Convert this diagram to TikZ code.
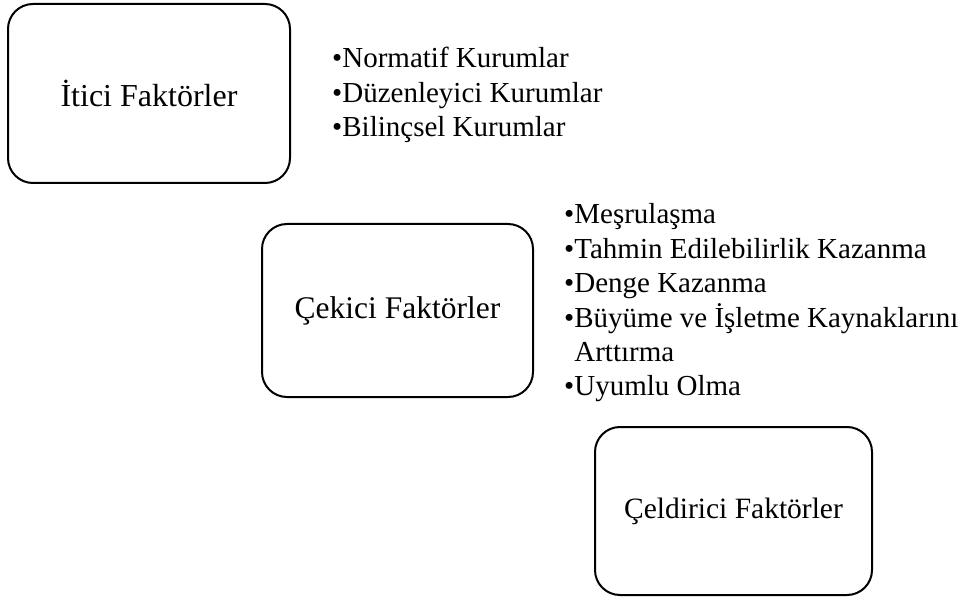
\documentclass[tikz,border=0pt]{standalone}
\usepackage{fontspec}
\setmainfont{Liberation Serif}
\begin{document}
\begin{tikzpicture}[x=1pt,y=-1pt,
  factorbox/.style={draw=black, line width=2pt, rounded corners=25pt, inner sep=0pt, align=center},
  listline/.style={anchor=base west, inner sep=0pt, font=\fontsize{29}{34}\selectfont}]
\useasboundingbox (0,0) rectangle (966,601);
\node[factorbox, minimum width=282pt, minimum height=179pt, font=\fontsize{32}{38}\selectfont] (b1) at (149,93.5) {İtici Faktörler};
\node[factorbox, minimum width=271pt, minimum height=173pt, font=\fontsize{31.5}{38}\selectfont] (b2) at (397.5,310.5) {Çekici Faktörler};
\node[factorbox, minimum width=277pt, minimum height=168pt, font=\fontsize{29.5}{36}\selectfont] (b3) at (733.5,511) {Çeldirici Faktörler};
% list 1
\node[listline] (l1a) at (332,68) {•Normatif Kurumlar};
\node[listline] (l1b) at (332,102.5) {•Düzenleyici Kurumlar};
\node[listline] (l1c) at (332,137) {•Bilinçsel Kurumlar};
% list 2
\node[listline] (l2a) at (564,224) {•Meşrulaşma};
\node[listline] (l2b) at (564,258.5) {•Tahmin Edilebilirlik Kazanma};
\node[listline] (l2c) at (564,293) {•Denge Kazanma};
\node[listline] (l2d) at (564,327) {•Büyüme ve İşletme Kaynaklarını};
\node[listline] (l2e) at (564,361) {\phantom{•}Arttırma};
\node[listline] (l2f) at (564,395) {•Uyumlu Olma};
\end{tikzpicture}
\end{document}
